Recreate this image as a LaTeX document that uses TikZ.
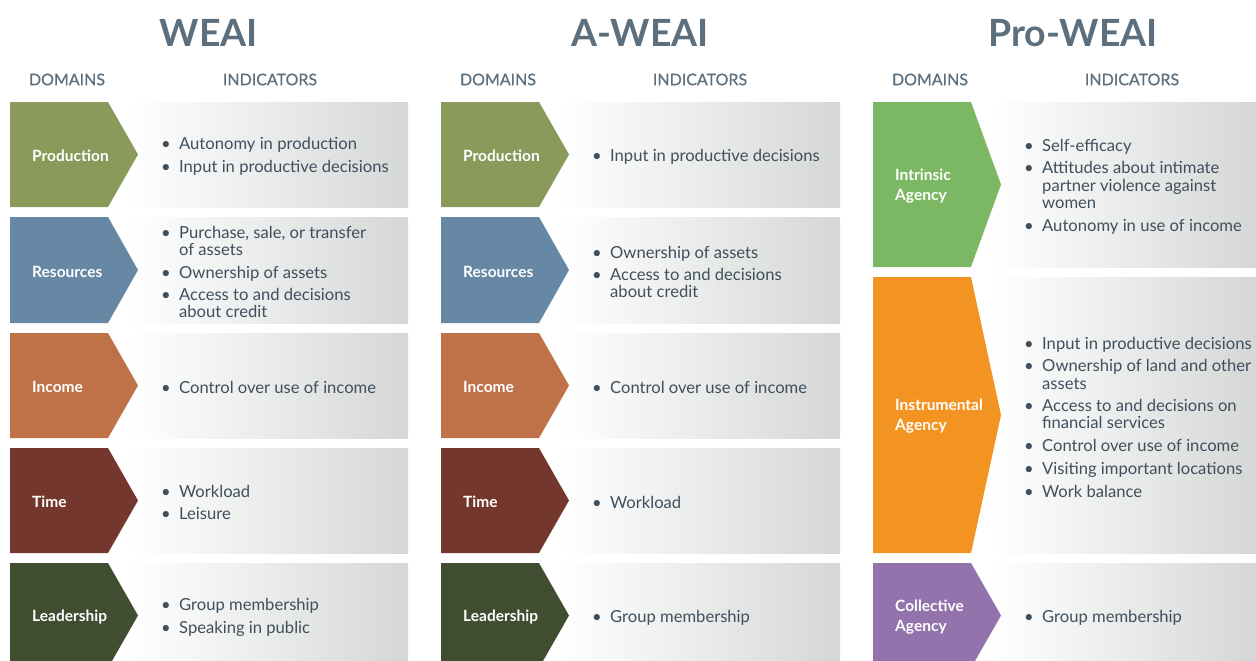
\documentclass[tikz,border=0pt]{standalone}
\usepackage{fontspec}
\setmainfont{Lato}
\definecolor{titlec}{HTML}{5B6F7E}
\definecolor{bodyc}{HTML}{3F4F5C}
\definecolor{boxR}{HTML}{D5D7D7}
\definecolor{boxL}{HTML}{FFFFFF}
\definecolor{cProd}{HTML}{8A9A5B}
\definecolor{cRes}{HTML}{6688A4}
\definecolor{cInc}{HTML}{BF7248}
\definecolor{cTime}{HTML}{74372D}
\definecolor{cLead}{HTML}{414D30}
\definecolor{cIntr}{HTML}{7CB863}
\definecolor{cInst}{HTML}{F39321}
\definecolor{cColl}{HTML}{9373AB}
\newcommand\bi[1]{\makebox[18pt][l]{\textbullet}#1}
\newcommand\ind{\hspace*{18pt}}
\newcommand\gap{\\[5.5pt]}
\tikzset{
  titletxt/.style={font=\fontsize{37.5}{40}\selectfont\bfseries, text=titlec, inner sep=0pt},
  headtxt/.style={font=\fontsize{16}{18}\selectfont\addfontfeature{FakeBold=0.6}, text=titlec, inner sep=0pt},
  domlabel/.style={font=\fontsize{15.5}{19.8}\selectfont\bfseries, text=white, anchor=west, align=left, inner sep=0pt},
  bullets/.style={font=\fontsize{16.6}{17.2}\selectfont, text=bodyc, anchor=west, align=left, inner sep=0pt},
  graybox/.style={left color=boxL, right color=boxR},
}
% #1 name, #2 left x, #3 top y, #4 bottom y, #5 box right x, #6 colour, #7 label, #8 bullets
\newcommand\domrow[8]{%
  \path[graybox] (#2+118,#3) rectangle (#5,#4);
  \fill[#6] (#2,#3) -- (#2+98,#3) -- (#2+128,{(#3+#4)/2}) -- (#2+98,#4) -- (#2,#4) -- cycle;
  \node[domlabel] (#1-d) at (#2+22,{(#3+#4)/2+1.5}) {#7};
  \node[bullets] (#1-i) at (#2+151,{(#3+#4)/2+2}) {#8};
}
\begin{document}
\begin{tikzpicture}[x=1pt,y=-1pt]
\useasboundingbox (0,0) rectangle (1256,661);
\clip (0,0) rectangle (1256,661);
% titles
\node[titletxt] (t1) at (209,33) {WEAI};
\node[titletxt] (t2) at (640,33) {A-WEAI};
\node[titletxt] (t3) at (1073,33) {Pro-WEAI};
% headers
\node[headtxt] (h1d) at (67,79.5) {DOMAINS};
\node[headtxt] (h1i) at (270,79.5) {INDICATORS};
\node[headtxt] (h2d) at (498,79.5) {DOMAINS};
\node[headtxt] (h2i) at (700,79.5) {INDICATORS};
\node[headtxt] (h3d) at (930,79.5) {DOMAINS};
\node[headtxt] (h3i) at (1132,79.5) {INDICATORS};
% WEAI
\domrow{a1}{10}{102}{207}{408}{cProd}{Production}{\bi{Autonomy in production}\gap\bi{Input in productive decisions}}
\domrow{a2}{10}{217}{323}{408}{cRes}{Resources}{\bi{Purchase, sale, or transfer}\\\ind of assets\gap\bi{Ownership of assets}\gap\bi{Access to and decisions}\\\ind about credit}
\domrow{a3}{10}{333}{438}{408}{cInc}{Income}{\bi{Control over use of income}}
\domrow{a4}{10}{448}{553}{408}{cTime}{Time}{\bi{Workload}\gap\bi{Leisure}}
\domrow{a5}{10}{563}{668}{408}{cLead}{Leadership}{\bi{Group membership}\gap\bi{Speaking in public}}
% A-WEAI
\domrow{b1}{441}{102}{207}{840}{cProd}{Production}{\bi{Input in productive decisions}}
\domrow{b2}{441}{217}{323}{840}{cRes}{Resources}{\bi{Ownership of assets}\gap\bi{Access to and decisions}\\\ind about credit}
\domrow{b3}{441}{333}{438}{840}{cInc}{Income}{\bi{Control over use of income}}
\domrow{b4}{441}{448}{553}{840}{cTime}{Time}{\bi{Workload}}
\domrow{b5}{441}{563}{668}{840}{cLead}{Leadership}{\bi{Group membership}}
% Pro-WEAI
\domrow{c1}{873}{102}{267}{1256}{cIntr}{Intrinsic\\Agency}{\bi{Self-efficacy}\gap\bi{Attitudes about intimate}\\\ind partner violence against\\\ind women\gap\bi{Autonomy in use of income}}
\domrow{c2}{873}{277}{553}{1256}{cInst}{Instrumental\\Agency}{\bi{Input in productive decisions}\gap\bi{Ownership of land and other}\\\ind assets\gap\bi{Access to and decisions on}\\\ind financial services\gap\bi{Control over use of income}\gap\bi{Visiting important locations}\gap\bi{Work balance}}
\domrow{c3}{873}{563}{668}{1256}{cColl}{Collective\\Agency}{\bi{Group membership}}
\end{tikzpicture}
\end{document}
